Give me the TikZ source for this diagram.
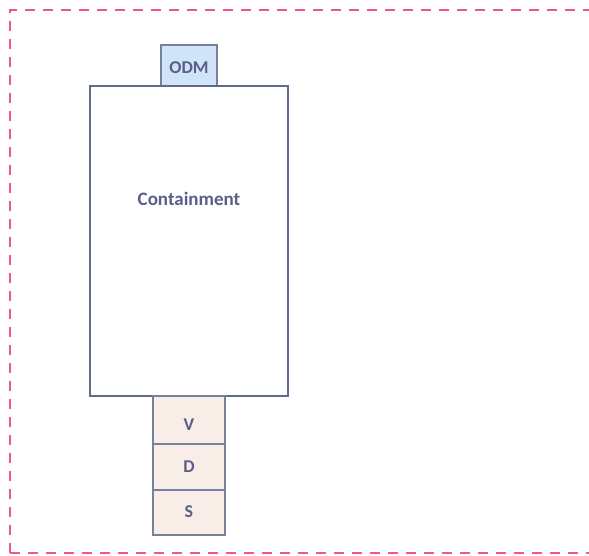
\documentclass[tikz,border=0pt]{standalone}
\usepackage{fontspec}
\setmainfont{Carlito}
\definecolor{dashred}{HTML}{EE5A7E}
\definecolor{boxline}{HTML}{5F6A8E}
\definecolor{txt}{HTML}{5A5F88}
\definecolor{odmfill}{HTML}{CFE4F6}
\definecolor{pinkfill}{HTML}{F9EDE8}
\begin{document}
\begin{tikzpicture}[x=1pt,y=-1pt,
  lbl/.style={text=txt},
  mainbox/.style={draw=boxline,line width=1.8pt,fill=white},
  smallbox/.style={draw=boxline!85,line width=1.2pt},
]
\useasboundingbox (0,0) rectangle (589,555);
\begin{scope}
\clip (0,0) rectangle (589,555);
\draw[dashred,line width=2.6pt,dash pattern=on 10pt off 8pt] (10,553) -- (10,10) -- (620,10);
\draw[dashred,line width=2.6pt,dash pattern=on 10pt off 8pt] (10,553) -- (620,553);
\end{scope}
\draw[smallbox,fill=odmfill] (161,45) rectangle (217,86);
\node[lbl,font=\bfseries\fontsize{18}{20}\selectfont] (odm) at (189,68) {ODM};
\draw[mainbox] (90,86) rectangle (288,396);
\node[lbl,font=\bfseries\fontsize{19}{22}\selectfont] (cont) at (189,199) {Containment};
\draw[smallbox,fill=pinkfill] (153,396) rectangle (225,444);
\draw[smallbox,fill=pinkfill] (153,444) rectangle (225,490);
\draw[smallbox,fill=pinkfill] (153,490) rectangle (225,535);
\node[lbl,font=\bfseries\fontsize{18}{20}\selectfont] (v) at (189,425) {V};
\node[lbl,font=\bfseries\fontsize{18}{20}\selectfont] (d) at (189,467) {D};
\node[lbl,font=\bfseries\fontsize{18}{20}\selectfont] (s) at (189,512) {S};
\end{tikzpicture}
\end{document}
